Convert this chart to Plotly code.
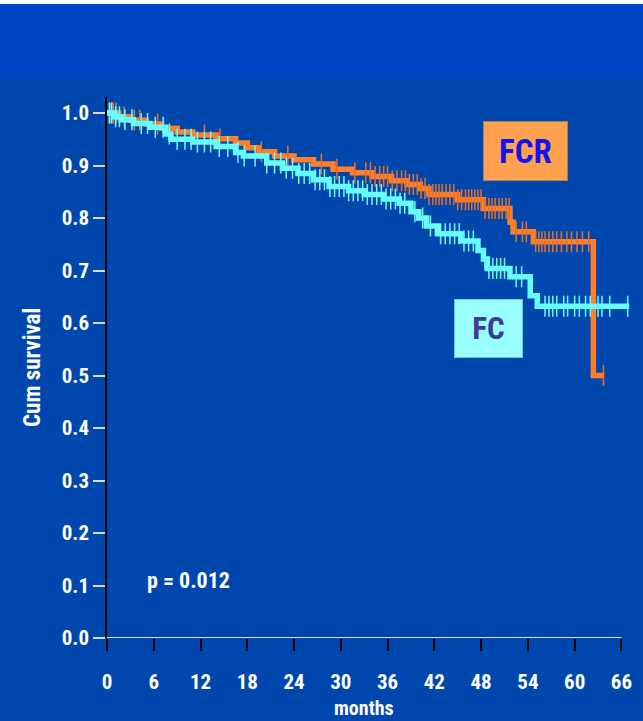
import numpy as np
import plotly.graph_objects as go

# Kaplan-Meier step points (months, cumulative survival)
fcr_t = [0, 1.5, 3.0, 5.0, 7.0, 9.0, 11, 14, 16.5, 18, 19.5, 21.5, 24, 26.5, 29, 31.5,
         34, 36.5, 38.5, 40.2, 41.3, 45, 48.3, 51.7, 52.1, 54.7, 62.4, 63.8]
fcr_s = [1.0, 0.993, 0.986, 0.979, 0.971, 0.964, 0.958, 0.951, 0.943, 0.934, 0.926, 0.918,
         0.911, 0.903, 0.893, 0.886, 0.879, 0.871, 0.864, 0.856, 0.845, 0.835, 0.818, 0.792,
         0.774, 0.755, 0.500, 0.500]

fc_t = [0, 1.0, 1.8, 3.4, 5.5, 7.5, 8.2, 11, 14, 16.5, 17.5, 20.5, 22.5, 24.5, 26.5, 28.5,
        31, 33, 35.5, 37.5, 39, 40, 41, 42.4, 45.4, 47.6, 48.3, 48.8, 51.7, 54.3, 55.2, 67.0]
fc_s = [1.0, 0.993, 0.987, 0.980, 0.973, 0.960, 0.950, 0.945, 0.936, 0.925, 0.918, 0.905,
        0.895, 0.885, 0.873, 0.860, 0.852, 0.845, 0.836, 0.828, 0.812, 0.800, 0.785, 0.770,
        0.756, 0.738, 0.722, 0.704, 0.688, 0.652, 0.632, 0.632]

# Censored observations (months)
fcr_cens = [0.4, 0.8, 1.2, 2.2, 3.5, 4.2, 6.5, 12.5, 14.5, 19.8, 23.2, 27.5, 29.5, 31.8,
            33.2, 33.8, 34.4, 35.0, 35.5, 36.0, 36.6, 37.2, 37.8, 38.3, 38.8, 39.3, 39.8,
            40.3, 40.8, 41.3, 41.8, 42.2, 42.6, 43.0, 43.5, 44.0, 44.5, 45.0, 45.5, 46.0,
            46.4, 46.8, 47.2, 47.6, 48.0, 48.5, 49.0, 49.4, 49.8, 50.3, 50.7, 51.2, 51.6,
            52.5, 53.3, 53.8, 55.0, 55.4, 55.8, 56.2, 56.7, 57.2, 57.7, 58.3, 59.0, 59.6,
            60.3, 61.0, 61.8, 63.7]
fc_cens = [0.3, 0.6, 1.1, 1.6, 2.3, 3.2, 4.4, 5.2, 6.2, 7.2, 8.0, 9.0, 10.0, 10.8, 11.6,
           12.5, 13.3, 14.4, 15.5, 16.8, 17.6, 19.0, 20.5, 21.5, 22.3, 23.0, 23.8, 24.6,
           25.3, 26.0, 26.7, 27.3, 27.9, 28.6, 29.2, 29.8, 30.4, 31.0, 31.6, 32.2, 32.8,
           33.4, 34.0, 34.6, 35.2, 35.8, 36.4, 37.0, 37.6, 38.2, 39.5, 40.5, 41.5, 42.8,
           43.4, 44.0, 44.6, 45.2, 45.8, 46.4, 47.0, 48.5, 49.0, 49.5, 50.0, 50.5, 51.0,
           52.5, 53.2, 56.2, 56.7, 57.2, 57.7, 58.6, 59.1, 60.0, 60.6, 61.4, 62.0, 63.0,
           63.5, 64.5, 66.8]

x_ticks = list(range(0, 67, 6))
y_ticks = [round(v * 0.1, 1) for v in range(11)]
y_ticktext = [f"{v:.1f}" for v in y_ticks]

FONT = "Liberation Sans Narrow, Arial Narrow, Roboto Condensed, Roboto, sans-serif"
ORANGE = "#FF7F2A"
ORANGE_TICK = "#E8702A"
CYAN = "#66FFFF"


def step_value(t, times, surv):
    idx = np.searchsorted(np.asarray(times), t, side="right") - 1
    return np.asarray(surv)[idx]


fig = go.Figure()

# FCR first so the FC curve sits on top where the two overlap
for times, surv, cens, color, tick_color in [
        (fcr_t, fcr_s, fcr_cens, ORANGE, ORANGE_TICK),
        (fc_t, fc_s, fc_cens, CYAN, CYAN)]:
    fig.add_trace(go.Scatter(
        x=times, y=surv, mode="lines", line=dict(color=color, width=5.5, shape="hv"),
        hoverinfo="skip", showlegend=False))
    fig.add_trace(go.Scatter(
        x=cens, y=step_value(np.asarray(cens), times, surv), mode="markers",
        marker=dict(symbol="line-ns", size=15, line=dict(color=tick_color, width=1.5)),
        hoverinfo="skip", showlegend=False))

W, H = 643, 721


def px_x(p):
    return p / W


def px_y(p):
    return (H - p) / H


fig.update_layout(
    width=W, height=H,
    margin=dict(l=0, r=0, t=0, b=0),
    paper_bgcolor="#0047AD",
    plot_bgcolor="rgba(0,0,0,0)",
    font=dict(family=FONT, color="white"),
    xaxis=dict(
        domain=[px_x(107), px_x(637)], range=[0, 68], tickvals=x_ticks,
        ticks="outside", ticklen=12, tickwidth=1.5, tickcolor="black",
        showline=False, zeroline=False, showgrid=False,
        tickfont=dict(size=21, family=FONT, weight="bold", color="white"),
        ticklabelstandoff=13, automargin=False,
    ),
    yaxis=dict(
        domain=[px_y(638), px_y(97.25)], range=[0, 1.03],
        tickvals=y_ticks, ticktext=y_ticktext,
        ticks="outside", ticklen=12, tickwidth=2, tickcolor="#D8D8D8",
        showline=True, linecolor="black", linewidth=1.5,
        zeroline=False, showgrid=False,
        tickfont=dict(size=21, family=FONT, weight="bold", color="white"),
        ticklabelstandoff=0, automargin=False,
    ),
    shapes=[
        dict(type="rect", xref="paper", yref="paper", x0=0, x1=1,
             y0=px_y(79), y1=px_y(4), fillcolor="#0044C8", line=dict(width=0), layer="below"),
        dict(type="rect", xref="paper", yref="paper", x0=0, x1=1,
             y0=px_y(4), y1=1, fillcolor="white", line=dict(width=0), layer="below"),
        dict(type="line", xref="x", yref="y", x0=0, x1=66, y0=0, y1=0,
             line=dict(color="#E4E4E4", width=2), layer="above"),
    ],
    annotations=[
        dict(text="<b>FCR</b>", xref="paper", yref="paper", x=px_x(525.5), y=px_y(151),
             xanchor="center", yanchor="middle",
             showarrow=False, width=81, height=56, bgcolor="#FFA24F",
             bordercolor="#A88060", borderwidth=1,
             font=dict(size=33, family=FONT, color="#1414F0")),
        dict(text="<b>FC</b>", xref="paper", yref="paper", x=px_x(488.5), y=px_y(328.5),
             xanchor="center", yanchor="middle",
             showarrow=False, width=65, height=55, bgcolor="#99FFFF",
             bordercolor="#70C8D8", borderwidth=1,
             font=dict(size=31, family=FONT, color="#3C3C96")),
        dict(text="<b>p = 0.012</b>", xref="paper", yref="paper", x=px_x(145), y=px_y(580),
             xanchor="left", yanchor="middle",
             showarrow=False, font=dict(size=22, family=FONT, color="white")),
        dict(text="<b>Cum survival</b>", xref="paper", yref="paper", x=px_x(32), y=px_y(368),
             xanchor="center", yanchor="middle",
             textangle=-90, showarrow=False, font=dict(size=23, family=FONT, color="white")),
        dict(text="<b>months</b>", xref="paper", yref="paper", x=px_x(364), y=px_y(708),
             xanchor="center", yanchor="middle",
             showarrow=False, font=dict(size=20, family=FONT, color="white")),
    ],
)

fig.write_html("out.html")
